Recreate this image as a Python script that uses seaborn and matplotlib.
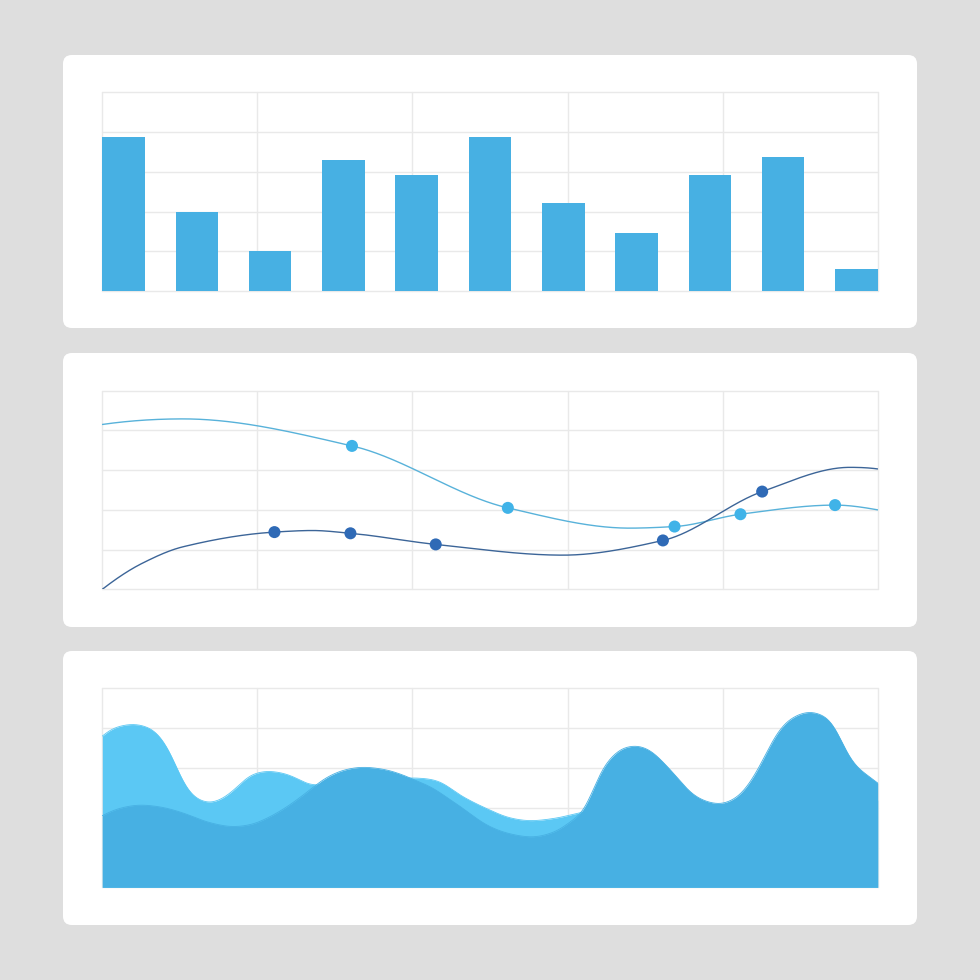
import numpy as np
import pandas as pd
import matplotlib
matplotlib.use("Agg")
import matplotlib.pyplot as plt
from matplotlib.patches import FancyBboxPatch
import seaborn as sns

# ---------------- data ----------------
bar_labels = ["A", "B", "C", "D", "E", "F", "G", "H", "I", "J", "K"]
bar_values = [3.88, 1.99, 1.00, 3.30, 2.91, 3.88, 2.23, 1.46, 2.91, 3.37, 0.57]

# line chart: x on a 0..10 scale, y on 0..5
light_line_x = [0.00, 1.04, 3.22, 5.23, 6.80, 7.38, 8.23, 9.45, 10.00]
light_line_y = [4.15, 4.29, 3.61, 2.05, 1.54, 1.58, 1.89, 2.12, 2.00]
light_line_marked = [False, False, True, True, False, True, True, True, False]

dark_line_x = [0.00, 0.52, 1.04, 2.22, 2.71, 3.20, 4.30, 5.94, 7.23, 8.51, 9.64, 10.00]
dark_line_y = [0.00, 0.66, 1.07, 1.44, 1.48, 1.41, 1.13, 0.86, 1.23, 2.46, 3.07, 3.03]
dark_line_marked = [False, False, False, True, False, True, True, False, True, True, False, False]

# area chart: x on a 0..10 scale, y on 0..5
light_area_x = [0.00, 0.14, 0.40, 0.62, 0.75, 0.88, 1.01, 1.13, 1.26, 1.39, 1.56,
                1.74, 1.91, 2.13, 2.33, 2.55, 2.68, 3.32, 3.97, 4.23, 4.36, 4.61,
                5.00, 5.26, 5.52, 5.86, 6.20, 6.68, 7.96, 8.99, 10.00]
light_area_y = [3.80, 4.00, 4.10, 4.00, 3.78, 3.37, 2.77, 2.37, 2.18, 2.12, 2.24,
                2.52, 2.82, 2.92, 2.87, 2.70, 2.57, 2.60, 2.75, 2.72, 2.65, 2.32,
                1.94, 1.74, 1.67, 1.74, 1.89, 1.99, 1.94, 1.99, 2.19]

dark_area_x = [0.00, 0.23, 0.49, 0.75, 1.04, 1.39, 1.69, 1.91, 2.13, 2.38, 2.64,
               2.90, 3.16, 3.36, 3.62, 3.84, 4.06, 4.27, 4.36, 4.61, 5.00, 5.26,
               5.54, 5.86, 6.03, 6.20, 6.33, 6.46, 6.59, 6.71, 6.89, 7.06, 7.23,
               7.41, 7.58, 7.74, 7.96, 8.18, 8.35, 8.52, 8.70, 8.87, 9.12, 9.34,
               9.47, 9.60, 9.73, 9.90, 10.00]
dark_area_y = [1.80, 1.99, 2.07, 2.02, 1.87, 1.62, 1.52, 1.57, 1.74, 2.02, 2.39,
               2.77, 2.97, 3.02, 2.97, 2.85, 2.67, 2.49, 2.37, 2.04, 1.52, 1.34,
               1.26, 1.41, 1.64, 1.89, 2.45, 3.02, 3.32, 3.50, 3.56, 3.45, 3.15,
               2.77, 2.39, 2.19, 2.09, 2.25, 2.62, 3.20, 3.87, 4.23, 4.41, 4.28,
               3.95, 3.38, 3.02, 2.77, 2.62]

# ---------------- styling ----------------
BG = "#dedede"
PANEL = "#ffffff"
GRID = "#e9e9e9"
BAR = "#47b0e3"
AREA_LIGHT = "#5bc8f4"
AREA_DARK = "#47b0e3"
LINE_LIGHT = "#58b2da"
MARK_LIGHT = "#40b3e8"
LINE_DARK = "#3c6598"
MARK_DARK = "#2f6ab6"

sns.set_theme(style="white")


def pchip(x, y, xs):
    x = np.asarray(x, float)
    y = np.asarray(y, float)
    n = len(x)
    h = np.diff(x)
    d = np.diff(y) / h
    m = np.zeros(n)
    for k in range(1, n - 1):
        if d[k - 1] * d[k] > 0:
            w1 = 2 * h[k] + h[k - 1]
            w2 = h[k] + 2 * h[k - 1]
            m[k] = (w1 + w2) / (w1 / d[k - 1] + w2 / d[k])

    def end(h0, h1, d0, d1):
        mm = ((2 * h0 + h1) * d0 - h0 * d1) / (h0 + h1)
        if np.sign(mm) != np.sign(d0):
            mm = 0.0
        elif np.sign(d0) != np.sign(d1) and abs(mm) > 3 * abs(d0):
            mm = 3 * d0
        return mm

    m[0] = end(h[0], h[1], d[0], d[1])
    m[-1] = end(h[-1], h[-2], d[-1], d[-2])
    idx = np.clip(np.searchsorted(x, xs) - 1, 0, n - 2)
    t = (xs - x[idx]) / h[idx]
    h00 = 2 * t**3 - 3 * t**2 + 1
    h10 = t**3 - 2 * t**2 + t
    h01 = -2 * t**3 + 3 * t**2
    h11 = t**3 - t**2
    return h00 * y[idx] + h10 * h[idx] * m[idx] + h01 * y[idx + 1] + h11 * h[idx] * m[idx + 1]


def soften(curve, sigma):
    """Gaussian smoothing of a sampled curve (odd reflection keeps end slopes)."""
    r = int(4 * sigma)
    k = np.exp(-0.5 * (np.arange(-r, r + 1) / sigma) ** 2)
    k /= k.sum()
    padded = np.pad(curve, r, mode="reflect", reflect_type="odd")
    return np.convolve(padded, k, mode="valid")


W = H = 980
fig = plt.figure(figsize=(9.8, 9.8), dpi=100, facecolor=BG)

# panels (pixel boxes -> figure fraction)
panels = [(63, 55, 917, 328), (63, 353, 917, 627), (63, 651, 917, 925)]
for (x0, y0, x1, y1) in panels:
    p = FancyBboxPatch((x0 / W, 1 - y1 / H), (x1 - x0) / W, (y1 - y0) / H,
                       boxstyle="round,pad=0,rounding_size=0.009",
                       transform=fig.transFigure, facecolor=PANEL,
                       edgecolor="none", zorder=-5)
    fig.patches.append(p)


def make_ax(top, bottom, left=102.3, right=877.7):
    ax = fig.add_axes([left / W, 1 - bottom / H, (right - left) / W, (bottom - top) / H])
    ax.set_facecolor("none")
    ax.set_zorder(2)
    for s in ax.spines.values():
        s.set_visible(False)
    return ax


def style_grid(ax, xmin, xmax):
    ax.set_xlim(xmin, xmax)
    ax.set_ylim(0, 5)
    ax.set_xticks(np.linspace(xmin, xmax, 6))
    ax.set_yticks(np.arange(0, 6))
    ax.set_xticklabels([])
    ax.set_yticklabels([])
    ax.tick_params(length=0)
    ax.grid(True, color=GRID, linewidth=1.0)
    ax.set_axisbelow(True)
    ax.set_xlabel("")
    ax.set_ylabel("")
    for gl in ax.get_xgridlines() + ax.get_ygridlines():
        gl.set_clip_on(False)


# ---------------- bar chart ----------------
ax1 = make_ax(92.3, 291.3)
bw = 0.582
df_bar = pd.DataFrame({"cat": bar_labels, "val": bar_values})
sns.barplot(data=df_bar, x="cat", y="val", color=BAR, saturation=1,
            width=bw, ax=ax1, edgecolor="none", linewidth=0)
style_grid(ax1, -bw / 2, len(bar_labels) - 1 + bw / 2)

# ---------------- line chart ----------------
ax2 = make_ax(390.7, 589.3)
xs = np.linspace(0, 10, 1200)
sns.lineplot(x=xs, y=pchip(light_line_x, light_line_y, xs), color=LINE_LIGHT,
             linewidth=1.0, ax=ax2)
sns.lineplot(x=xs, y=pchip(dark_line_x, dark_line_y, xs), color=LINE_DARK,
             linewidth=1.0, ax=ax2)
lm = np.array(light_line_marked)
dm = np.array(dark_line_marked)
sns.scatterplot(x=np.array(light_line_x)[lm], y=np.array(light_line_y)[lm],
                color=MARK_LIGHT, s=75, edgecolor="none", ax=ax2, zorder=5)
sns.scatterplot(x=np.array(dark_line_x)[dm], y=np.array(dark_line_y)[dm],
                color=MARK_DARK, s=75, edgecolor="none", ax=ax2, zorder=5)
style_grid(ax2, 0, 10)

# ---------------- area chart ----------------
ax3 = make_ax(688.3, 887.3)
sig = 9.0  # in samples (~6 px)
ly = soften(pchip(light_area_x, light_area_y, xs), sig)
dy = soften(pchip(dark_area_x, dark_area_y, xs), sig)
ax3.fill_between(xs, 0, ly, color=AREA_LIGHT, linewidth=0, zorder=2)
sns.lineplot(x=xs, y=ly, color=AREA_LIGHT, linewidth=0.6, ax=ax3, zorder=2)
ax3.fill_between(xs, 0, dy, color=AREA_DARK, linewidth=0, zorder=3)
sns.lineplot(x=xs, y=dy, color=AREA_DARK, linewidth=0.6, ax=ax3, zorder=3)
style_grid(ax3, 0, 10)

fig.savefig("out.png", dpi=100, facecolor=BG)
